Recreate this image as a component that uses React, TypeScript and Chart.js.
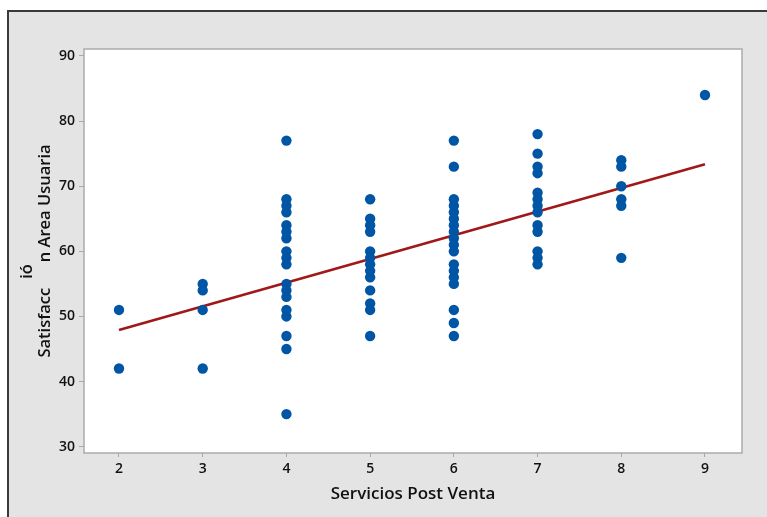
import React, { useEffect, useRef } from "react";
import { Chart, registerables } from "chart.js";

Chart.register(...registerables);

// ---- data ----
const servicios = [2, 3, 4, 5, 6, 7, 8, 9];
const sat2 = [51, 42];
const sat3 = [55, 54, 51, 42];
const sat4 = [77, 68, 67, 66, 64, 63, 62, 60, 59, 58, 55, 54, 53, 51, 50, 47, 45, 35];
const sat5 = [68, 65, 64, 63, 60, 59, 58, 57, 56, 54, 52, 51, 47];
const sat6 = [77, 73, 68, 67, 66, 65, 64, 63, 62, 61, 60, 58, 57, 56, 55, 51, 49, 47];
const sat7 = [78, 75, 73, 72, 69, 68, 67, 66, 64, 63, 60, 59, 58];
const sat8 = [74, 73, 70, 68, 67, 59];
const sat9 = [84];
const satByServicio = [sat2, sat3, sat4, sat5, sat6, sat7, sat8, sat9];

// fitted regression line
const fitIntercept = 40.65;
const fitSlope = 3.636;
const fitFrom = 2;
const fitTo = 9;

const xTicks = [2, 3, 4, 5, 6, 7, 8, 9];
const yTicks = [30, 40, 50, 60, 70, 80, 90];

const xTitle = "Servicios Post Venta";
const yTitleA = "Satisfacc";
const yTitleB = "ió";
const yTitleC = "n Area Usuaria";

const FONT = "'Segoe UI', 'Open Sans', sans-serif";

export default function App() {
  const ref = useRef<HTMLCanvasElement | null>(null);

  useEffect(() => {
    if (!ref.current) return;
    const points: { x: number; y: number }[] = [];
    servicios.forEach((s, i) => {
      satByServicio[i].forEach((v) => points.push({ x: s, y: v }));
    });
    const fitLine = [
      { x: fitFrom, y: fitIntercept + fitSlope * fitFrom },
      { x: fitTo, y: fitIntercept + fitSlope * fitTo },
    ];

    const framePlugin = {
      id: "framePlugin",
      beforeDraw(chart: any) {
        const { ctx, chartArea } = chart;
        ctx.save();
        ctx.fillStyle = "#ffffff";
        ctx.fillRect(chartArea.left, chartArea.top, chartArea.right - chartArea.left, chartArea.bottom - chartArea.top);
        ctx.restore();
      },
      afterDraw(chart: any) {
        const { ctx, chartArea } = chart;
        ctx.save();
        ctx.strokeStyle = "#ababab";
        ctx.lineWidth = 1.5;
        ctx.strokeRect(chartArea.left, chartArea.top, chartArea.right - chartArea.left, chartArea.bottom - chartArea.top);

        ctx.fillStyle = "#111111";
        ctx.font = `600 17px ${FONT}`;
        ctx.textAlign = "center";
        ctx.textBaseline = "alphabetic";
        ctx.fillText(xTitle, (chartArea.left + chartArea.right) / 2, 499);

        ctx.font = `600 16.5px ${FONT}`;
        const wA = ctx.measureText(yTitleA).width;
        const wB = ctx.measureText(yTitleB).width;
        const wC = ctx.measureText(yTitleC).width;
        const gap1 = 9;
        const gap2 = 2;
        const total = wA + gap1 + wB + gap2 + wC;
        const center = (chartArea.top + chartArea.bottom) / 2;
        ctx.translate(50, 0);
        ctx.rotate(-Math.PI / 2);
        ctx.textAlign = "left";
        const u0 = -(center + total / 2);
        ctx.fillText(yTitleA, u0, 0);
        const u1 = u0 + wA + gap1;
        ctx.fillText(yTitleB, u1, -18);
        const u2 = u1 + wB + gap2;
        ctx.fillText(yTitleC, u2, 0);
        ctx.restore();
      },
    };

    const chart = new Chart(ref.current, {
      type: "scatter",
      data: {
        datasets: [
          {
            type: "line",
            data: fitLine,
            borderColor: "#a01818",
            borderWidth: 2.6,
            pointRadius: 0,
            fill: false,
            order: 2,
          } as any,
          {
            type: "scatter",
            data: points,
            backgroundColor: "#0055a5",
            borderWidth: 0,
            pointRadius: 5.2,
            order: 1,
          },
        ],
      },
      options: {
        animation: false,
        responsive: false,
        maintainAspectRatio: false,
        layout: { padding: { top: 49, right: 25, left: 0, bottom: 0 } },
        plugins: { legend: { display: false }, tooltip: { enabled: false } },
        scales: {
          x: {
            type: "linear",
            min: 1.582,
            max: 9.442,
            afterFit: (s: any) => {
              s.height = 64;
            },
            afterBuildTicks: (s: any) => {
              s.ticks = xTicks.map((v) => ({ value: v }));
            },
            grid: {
              display: true,
              drawOnChartArea: false,
              drawTicks: true,
              tickLength: 4,
              tickColor: "#a8a8a8",
              tickWidth: 1,
            },
            border: { display: false },
            ticks: {
              color: "#111111",
              font: { family: FONT, size: 14, weight: 600 },
              padding: 4,
              maxRotation: 0,
            },
          },
          y: {
            type: "linear",
            min: 29.03,
            max: 91.07,
            afterFit: (s: any) => {
              s.width = 84;
            },
            afterBuildTicks: (s: any) => {
              s.ticks = yTicks.map((v) => ({ value: v }));
            },
            grid: {
              display: true,
              drawOnChartArea: false,
              drawTicks: true,
              tickLength: 5,
              tickColor: "#a8a8a8",
              tickWidth: 1,
            },
            border: { display: false },
            ticks: {
              color: "#111111",
              font: { family: FONT, size: 14, weight: 600 },
              padding: 4,
            },
          },
        },
      },
      plugins: [framePlugin],
    });
    return () => chart.destroy();
  }, []);

  return (
    <div style={{ position: "fixed", left: 0, top: 0, width: 767, height: 517, background: "#ffffff", overflow: "hidden" }}>
      <div
        style={{
          position: "absolute",
          left: 7,
          top: 10,
          right: 0,
          bottom: 0,
          background: "#e4e4e4",
          borderLeft: "2px solid #3a3a3a",
          borderTop: "2px solid #3a3a3a",
        }}
      />
      <canvas ref={ref} width={767} height={517} style={{ position: "absolute", left: 0, top: 0, width: 767, height: 517 }} />
    </div>
  );
}
